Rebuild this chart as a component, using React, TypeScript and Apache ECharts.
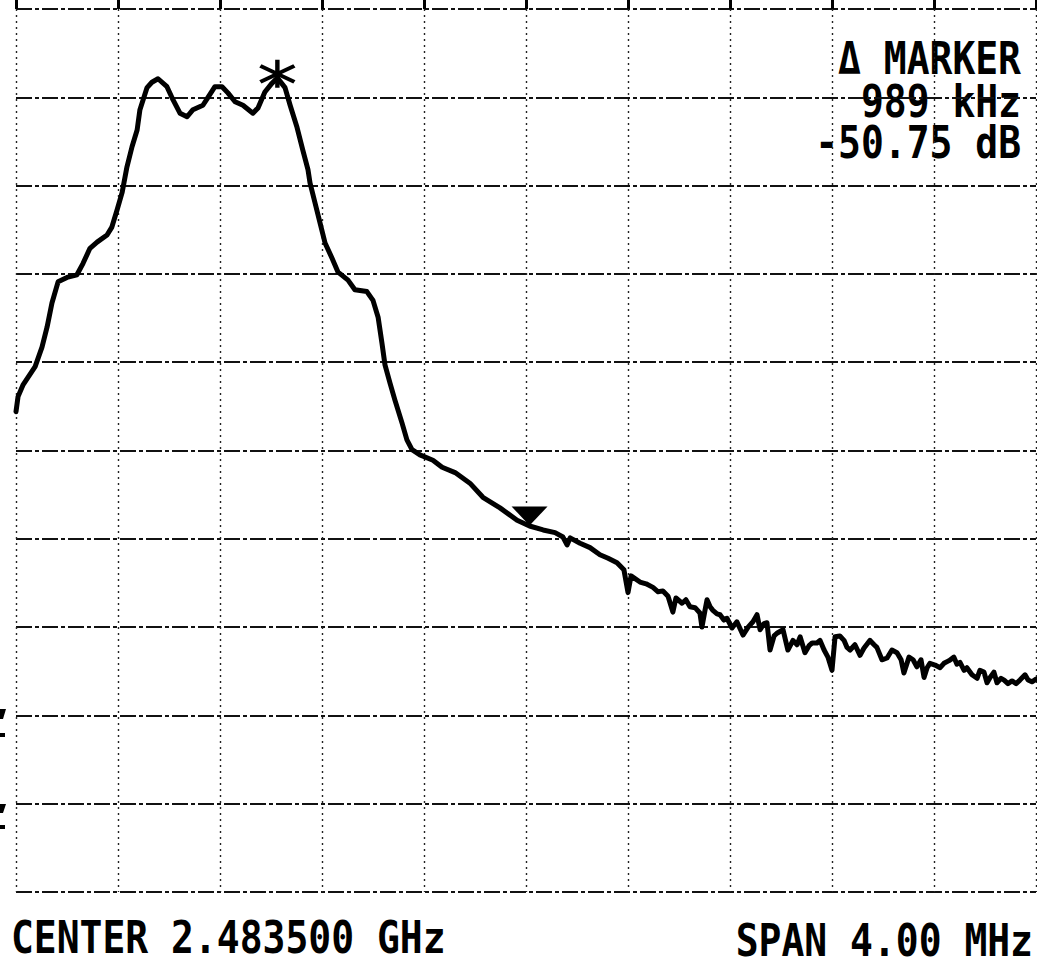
import React, { useEffect, useRef } from "react";
import * as echarts from "echarts";

// Frequency offset from centre (kHz) and level relative to reference (dB)
const freqOffsetKHz = [
  -2000, -1992, -1973, -1925, -1898, -1878, -1859, -1835, -1800, -1761,
  -1737, -1710, -1682, -1643, -1624, -1604, -1584, -1565, -1545, -1525,
  -1514, -1486, -1467, -1443, -1408, -1384, -1357, -1329, -1306, -1267,
  -1247, -1220, -1192, -1169, -1141, -1110, -1071, -1051, -1024, -996,
  -975, -945, -925, -898, -875, -855, -847, -827, -808, -788,
  -761, -737, -698, -671, -624, -600, -580, -565, -553, -533,
  -514, -486, -467, -447, -416, -365, -329, -278, -220, -169,
  -102, -35, 14, 67, 114, 145, 161, 173, 212, 251,
  290, 322, 357, 384, 400, 412, 447, 471, 498, 518,
  537, 557, 576, 588, 612, 627, 643, 663, 682, 690,
  702, 710, 722, 733, 749, 761, 776, 788, 808, 827,
  851, 871, 890, 906, 918, 933, 945, 957, 973, 984,
  1008, 1027, 1047, 1063, 1075, 1094, 1110, 1122, 1141, 1153,
  1169, 1184, 1200, 1212, 1231, 1247, 1259, 1271, 1290, 1310,
  1325, 1349, 1365, 1376, 1396, 1416, 1435, 1455, 1471, 1482,
  1502, 1518, 1533, 1549, 1561, 1573, 1584, 1604, 1624, 1639,
  1659, 1678, 1690, 1702, 1718, 1729, 1749, 1769, 1780, 1796,
  1808, 1820, 1835, 1847, 1863, 1875, 1890, 1906, 1922, 1937,
  1957, 1969, 1984, 2000,
];
const levelDb = [
  -45.6, -43.9, -42.6, -40.5, -38.3, -36.0, -33.3, -30.9, -30.4, -30.1,
  -28.8, -27.1, -26.4, -25.6, -24.7, -22.8, -20.8, -17.9, -15.6, -13.7,
  -11.4, -8.9, -8.3, -7.9, -8.8, -10.3, -11.8, -12.2, -11.4, -10.9,
  -10.0, -8.8, -8.8, -9.5, -10.5, -10.9, -11.8, -11.2, -9.4, -8.4,
  -7.8, -8.9, -10.9, -13.4, -16.0, -18.2, -19.7, -22.0, -24.2, -26.5,
  -28.2, -29.8, -30.7, -31.8, -32.0, -33.0, -34.9, -37.8, -40.3, -42.4,
  -44.3, -46.9, -48.8, -49.9, -50.5, -51.1, -51.9, -52.5, -53.7, -55.3,
  -56.5, -57.9, -58.55, -59.0, -59.3, -59.8, -60.7, -59.9, -60.5, -61.0,
  -61.8, -62.2, -62.7, -63.5, -66.1, -64.2, -64.9, -65.1, -65.5, -66.0,
  -65.9, -66.5, -68.3, -66.7, -67.3, -66.9, -67.7, -67.8, -68.4, -70.0,
  -68.1, -66.9, -67.7, -68.1, -68.5, -68.6, -69.2, -69.0, -70.1, -69.4,
  -70.9, -70.0, -69.4, -68.6, -70.3, -69.6, -69.5, -72.6, -71.0, -70.7,
  -70.3, -72.6, -71.5, -72.0, -71.1, -72.9, -72.1, -71.8, -71.8, -71.5,
  -72.6, -73.4, -74.9, -71.1, -71.0, -71.5, -72.3, -72.6, -72.0, -73.2,
  -72.4, -71.5, -72.0, -72.3, -73.7, -73.5, -72.6, -72.9, -73.7, -75.2,
  -73.4, -73.7, -74.5, -73.7, -75.7, -74.6, -74.1, -74.3, -74.6, -74.1,
  -73.8, -73.4, -74.2, -74.0, -74.9, -74.6, -75.4, -75.8, -74.9, -75.1,
  -76.3, -75.7, -75.1, -76.3, -75.8, -76.0, -76.4, -76.1, -76.4, -76.0,
  -75.4, -76.0, -76.2, -75.9,
];

// Marker (peak) and delta marker positions
const markerFreqKHz = [-975, 14];
const markerLevelDb = [-7.8, -58.55];

// Axis scale: span 4 MHz (400 kHz/div), 10 dB/div
const freqRangeKHz = [-2000, 2000];
const freqStepKHz = 400;
const levelRangeDb = [-100, 0];
const levelStepDb = 10;

const markerReadout = ["\u0394 MARKER", "989 kHz", "-50.75 dB"];
const centerLabel = "CENTER 2.483500 GHz";
const spanLabel = "SPAN 4.00 MHz";

const FONT = '"DejaVu Sans Mono", "Liberation Mono", monospace';

export default function App() {
  const ref = useRef<HTMLDivElement>(null);

  useEffect(() => {
    if (!ref.current) return;
    const chart = echarts.init(ref.current, null, { renderer: "svg" });
    const data = freqOffsetKHz.map((f, i) => [f, levelDb[i]]);

    const textEl = (text: string, x: number, y: number, align: string) => ({
      type: "text",
      x,
      y,
      scaleY: 1.16,
      style: {
        text,
        fill: "#000",
        fontFamily: FONT,
        fontWeight: "bold",
        fontSize: 38,
        lineHeight: 34,
        align,
        verticalAlign: "middle",
      },
    });

    chart.setOption({
      animation: false,
      backgroundColor: "#fff",
      grid: { left: 16, right: 1, top: 9, bottom: 75, containLabel: false },
      xAxis: {
        type: "value",
        min: freqRangeKHz[0],
        max: freqRangeKHz[1],
        interval: freqStepKHz,
        axisLabel: { show: false },
        axisLine: { show: false },
        axisTick: { show: true, inside: true, length: 10, lineStyle: { color: "#000", width: 3 } },
        splitLine: { show: true, lineStyle: { color: "#222", width: 1.4, type: [2, 4] } },
      },
      yAxis: {
        type: "value",
        min: levelRangeDb[0],
        max: levelRangeDb[1],
        interval: levelStepDb,
        axisLabel: { show: false },
        axisLine: { show: false },
        axisTick: { show: false },
        splitLine: { show: true, lineStyle: { color: "#111", width: 1.8, type: [16, 3, 4, 3] } },
      },
      series: [
        {
          type: "line",
          data,
          showSymbol: false,
          lineStyle: { color: "#000", width: 5, join: "round", cap: "round" },
          markPoint: {
            label: { show: false },
            data: [
              {
                coord: [markerFreqKHz[0], markerLevelDb[0]],
                symbol: "path://M0,-14L0,14M-16,-8L16,8M-16,8L16,-8",
                symbolSize: [34, 28],
                symbolOffset: [0, -4],
                itemStyle: { color: "rgba(0,0,0,0)", borderColor: "#000", borderWidth: 4 },
              },
              {
                coord: [markerFreqKHz[1], markerLevelDb[1]],
                symbol: "path://M0,0L36,0L18,20Z",
                symbolSize: [36, 19],
                symbolOffset: [0, -10],
                itemStyle: { color: "#000" },
              },
            ],
          },
        },
      ],
      graphic: [
        textEl(markerReadout[0], 1021, 59, "right"),
        textEl(markerReadout[1], 1021, 102, "right"),
        textEl(markerReadout[2], 1021, 143, "right"),
        textEl(centerLabel, 11, 938, "left"),
        textEl(spanLabel, 1033, 941, "right"),
        { type: "polygon", shape: { points: [[0, 709], [6, 709], [3, 719], [0, 719]] }, style: { fill: "#000" } },
        { type: "rect", shape: { x: 0, y: 733, width: 5, height: 4 }, style: { fill: "#000" } },
        { type: "polygon", shape: { points: [[0, 804], [6, 804], [3, 813], [0, 813]] }, style: { fill: "#000" } },
        { type: "rect", shape: { x: 0, y: 825, width: 5, height: 4 }, style: { fill: "#000" } },
      ],
    });

    return () => chart.dispose();
  }, []);

  return (
    <div
      ref={ref}
      style={{ position: "absolute", left: 0, top: 0, width: 1037, height: 967, background: "#fff" }}
    />
  );
}
